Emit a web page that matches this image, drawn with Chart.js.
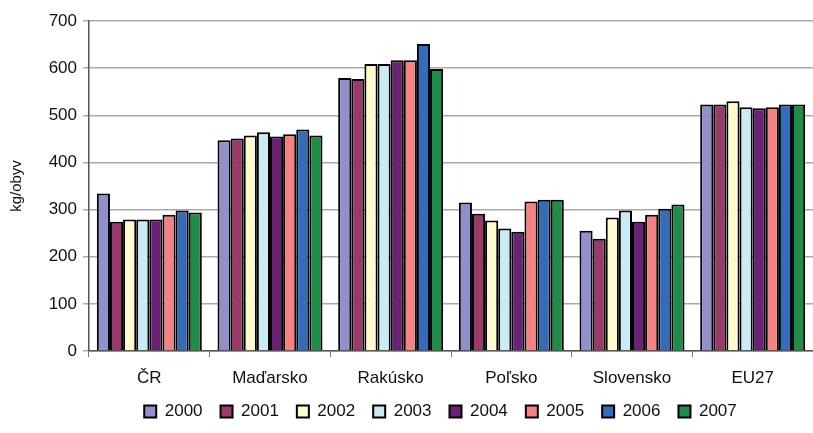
<!DOCTYPE html>
<html>
<head>
<meta charset="utf-8">
<script src="https://cdn.jsdelivr.net/npm/chart.js@4"></script>
<style>
  html, body { margin: 0; padding: 0; background: #fff; }
  #wrap { width: 813px; height: 433px; }
</style>
</head>
<body>
<div id="wrap"><canvas id="chart"></canvas></div>
<script>
const krajiny = ['ČR', 'Maďarsko', 'Rakúsko', 'Poľsko', 'Slovensko', 'EU27'];
const roky = ['2000', '2001', '2002', '2003', '2004', '2005', '2006', '2007'];

// kg na obyvatela, po krajinach (poradie ako krajiny)
const r2000 = [334, 447, 579, 315, 255, 523];
const r2001 = [274, 451, 577, 291, 238, 523];
const r2002 = [279, 457, 609, 277, 283, 530];
const r2003 = [279, 464, 609, 260, 298, 517];
const r2004 = [279, 455, 617, 253, 274, 515];
const r2005 = [289, 460, 617, 317, 289, 517];
const r2006 = [298, 470, 651, 321, 302, 523];
const r2007 = [294, 457, 598, 321, 311, 523];

const yTicks = [0, 100, 200, 300, 400, 500, 600, 700];

const farby = ['#9190CA', '#993A6B', '#FFFBCC', '#C9EBF3', '#6A2374', '#F58283', '#356CBA', '#1F8C47'];
const hodnoty = [r2000, r2001, r2002, r2003, r2004, r2005, r2006, r2007];

// legenda: mensia vyska pri layoute, potom posun na miesto ako v originali
const legendaPlugin = {
    id: 'legendaPlugin',
    afterInit(chart) {
        const leg = chart.legend;
        if (!leg) return;
        const fit = leg.fit;
        leg.fit = function () {
            fit.call(this);
            this.height = 38;
        };
    },
    afterLayout(chart) {
        const leg = chart.legend;
        if (!leg) return;
        leg.left = 68;
        leg.top = 385;
        leg.bottom = 433;
    }
};

const ctx = document.getElementById('chart').getContext('2d');
new Chart(ctx, {
    type: 'bar',
    data: {
        labels: krajiny,
        datasets: roky.map((rok, i) => ({
            label: rok,
            data: hodnoty[i],
            backgroundColor: farby[i],
            borderColor: '#000',
            borderWidth: 2,
            borderSkipped: 'bottom',
            categoryPercentage: 0.87,
            barPercentage: 1.0
        }))
    },
    options: {
        responsive: true,
        maintainAspectRatio: false,
        animation: false,
        layout: { padding: { top: 21, right: 0, left: 6, bottom: 0 } },
        scales: {
            x: {
                grid: { display: true, drawOnChartArea: false, offset: true, color: '#777', tickLength: 6 },
                border: { color: '#555', width: 1.5 },
                ticks: { color: '#111', font: { family: 'Liberation Sans', size: 17 }, padding: 11 },
                afterFit: s => { s.height = 44; }
            },
            y: {
                min: 0,
                max: 700,
                afterBuildTicks: s => { s.ticks = yTicks.map(v => ({ value: v })); },
                grid: { color: '#aaa', lineWidth: 1.5, tickLength: 6 },
                border: { color: '#555', width: 1.5 },
                ticks: { color: '#111', font: { family: 'Liberation Sans', size: 17 }, padding: 6 },
                title: { display: true, text: 'kg/obyv', color: '#111', font: { family: 'Liberation Sans', size: 15 }, padding: 2 },
                afterFit: s => { s.width = 83; }
            }
        },
        plugins: {
            legend: {
                position: 'bottom',
                labels: {
                    color: '#111',
                    font: { family: 'Liberation Sans', size: 17 },
                    boxWidth: 12,
                    boxHeight: 12,
                    padding: 18
                }
            },
            tooltip: { enabled: false }
        }
    },
    plugins: [legendaPlugin]
});
</script>
</body>
</html>
